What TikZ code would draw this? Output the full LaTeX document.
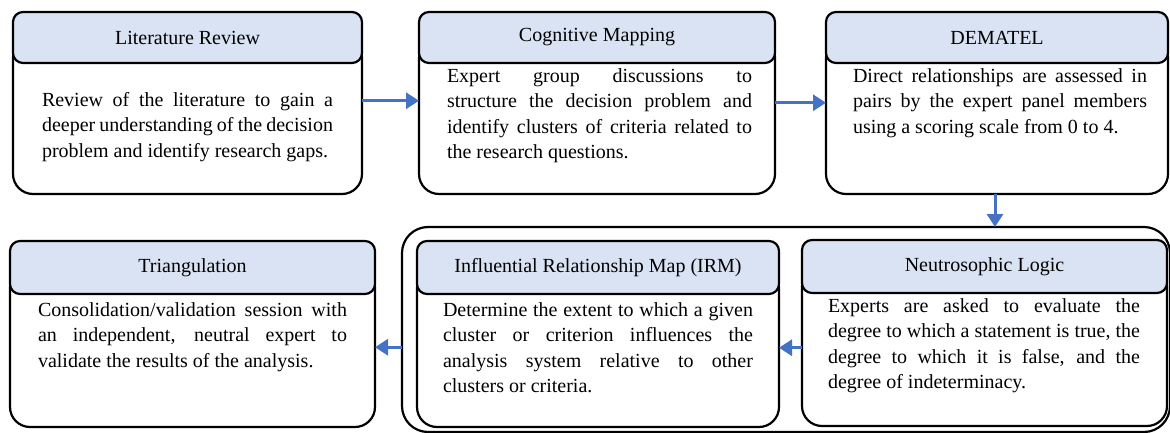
\documentclass[tikz,border=0pt]{standalone}
\usepackage{fontspec}
\setmainfont{Liberation Serif}
\usetikzlibrary{arrows.meta}
\definecolor{headblue}{HTML}{DAE3F3}
\definecolor{arrowblue}{HTML}{4472C4}
\newcommand{\nohyph}{\hyphenpenalty=10000\relax\exhyphenpenalty=10000\relax\hbadness=10000\relax}
\tikzstyle{stagehead} = [draw,rounded corners=10pt,fill=headblue,line width=2.2pt,inner sep=0pt,outer sep=0pt,font=\fontsize{20}{25}\selectfont]
\tikzstyle{stagebody} = [draw,rounded corners=20pt,fill=white,line width=2.2pt,inner sep=0pt,outer sep=0pt]
\tikzstyle{stagetext} = [anchor=north,inner sep=0pt,align=justify,font=\fontsize{20}{25.5}\selectfont]
\tikzstyle{flowarrow} = [draw=arrowblue,line width=3pt,-{Triangle[length=13pt,width=16pt]}]

\begin{document}
\begin{tikzpicture}[x=1pt,y=-1pt]
	\useasboundingbox (0,0) rectangle (1170,433);
	\clip (0,0) rectangle (1170,433);

	%% group round IRM and neutrosophic logic
	\node[stagebody,rounded corners=26pt,minimum width=768pt,minimum height=205pt] (group) at (786,329.5) {};

	%% top row
	\node[stagebody,minimum width=349pt,minimum height=156.5pt] (litbody) at (187.5,115.75) {};
	\node[stagehead,minimum width=349pt,minimum height=51pt] (lithead) at (187.5,37.5) {Literature Review};
	\node[stagetext,text width=291pt] (littext) at (187.5,92) {\nohyph Review of the literature to gain a\linebreak deeper understanding of the decision\linebreak problem and identify research gaps.};

	\node[stagebody,minimum width=356pt,minimum height=156.5pt] (cogbody) at (597,115.75) {};
	\node[stagehead,minimum width=356pt,minimum height=51pt] (coghead) at (597,37.5) {Cognitive Mapping};
	\node[stagetext,text width=305pt] (cogtext) at (599.5,68) {\nohyph Expert group discussions to\linebreak structure the decision problem and\linebreak identify clusters of criteria related to\linebreak the research questions.};

	\node[stagebody,minimum width=342pt,minimum height=156.5pt] (dembody) at (997,115.75) {};
	\node[stagehead,minimum width=342pt,minimum height=51pt] (demhead) at (997,37.5) {DEMATEL};
	\node[stagetext,text width=294pt] (demtext) at (1000,68) {\nohyph Direct relationships are assessed in\linebreak pairs by the expert panel members\linebreak using a scoring scale from 0 to 4.};

	%% bottom row
	\node[stagebody,minimum width=365pt,minimum height=159.5pt] (tribody) at (192.5,347.25) {};
	\node[stagehead,minimum width=365pt,minimum height=53pt] (trihead) at (192.5,267.5) {Triangulation};
	\node[stagetext,text width=309pt] (tritext) at (192.5,302) {\nohyph Consolidation/validation session with\linebreak an independent, neutral expert to\linebreak validate the results of the analysis.};

	\node[stagebody,minimum width=362pt,minimum height=159.5pt] (irmbody) at (598,347.25) {};
	\node[stagehead,minimum width=362pt,minimum height=53pt] (irmhead) at (598,267.5) {Influential Relationship Map (IRM)};
	\node[stagetext,text width=310pt] (irmtext) at (598,302) {\nohyph Determine the extent to which a given\linebreak cluster or criterion influences the\linebreak analysis system relative to other\linebreak clusters or criteria.};

	\node[stagebody,minimum width=365pt,minimum height=159.5pt] (neubody) at (984.5,346.25) {};
	\node[stagehead,minimum width=365pt,minimum height=53pt] (neuhead) at (984.5,266.5) {Neutrosophic Logic};
	\node[stagetext,text width=312pt] (neutext) at (984,298) {\nohyph Experts are asked to evaluate the\linebreak degree to which a statement is true, the\linebreak degree to which it is false, and the\linebreak degree of indeterminacy.};

	%% arrows
	\draw[flowarrow] ([yshift=15pt]litbody.east) -- ([yshift=15pt]cogbody.west);
	\draw[flowarrow] ([yshift=13pt]cogbody.east) -- ([yshift=13pt]dembody.west);
	\draw[flowarrow] ([xshift=-2pt]dembody.south) -- ([xshift=-2pt]group.north -| dembody.south);
	\draw[flowarrow] ([yshift=-1.5pt]neubody.west) -- ([yshift=-1.5pt]neubody.west -| irmbody.east);
	\draw[flowarrow] (group.west |- tribody.east) -- (tribody.east);
\end{tikzpicture}
\end{document}
